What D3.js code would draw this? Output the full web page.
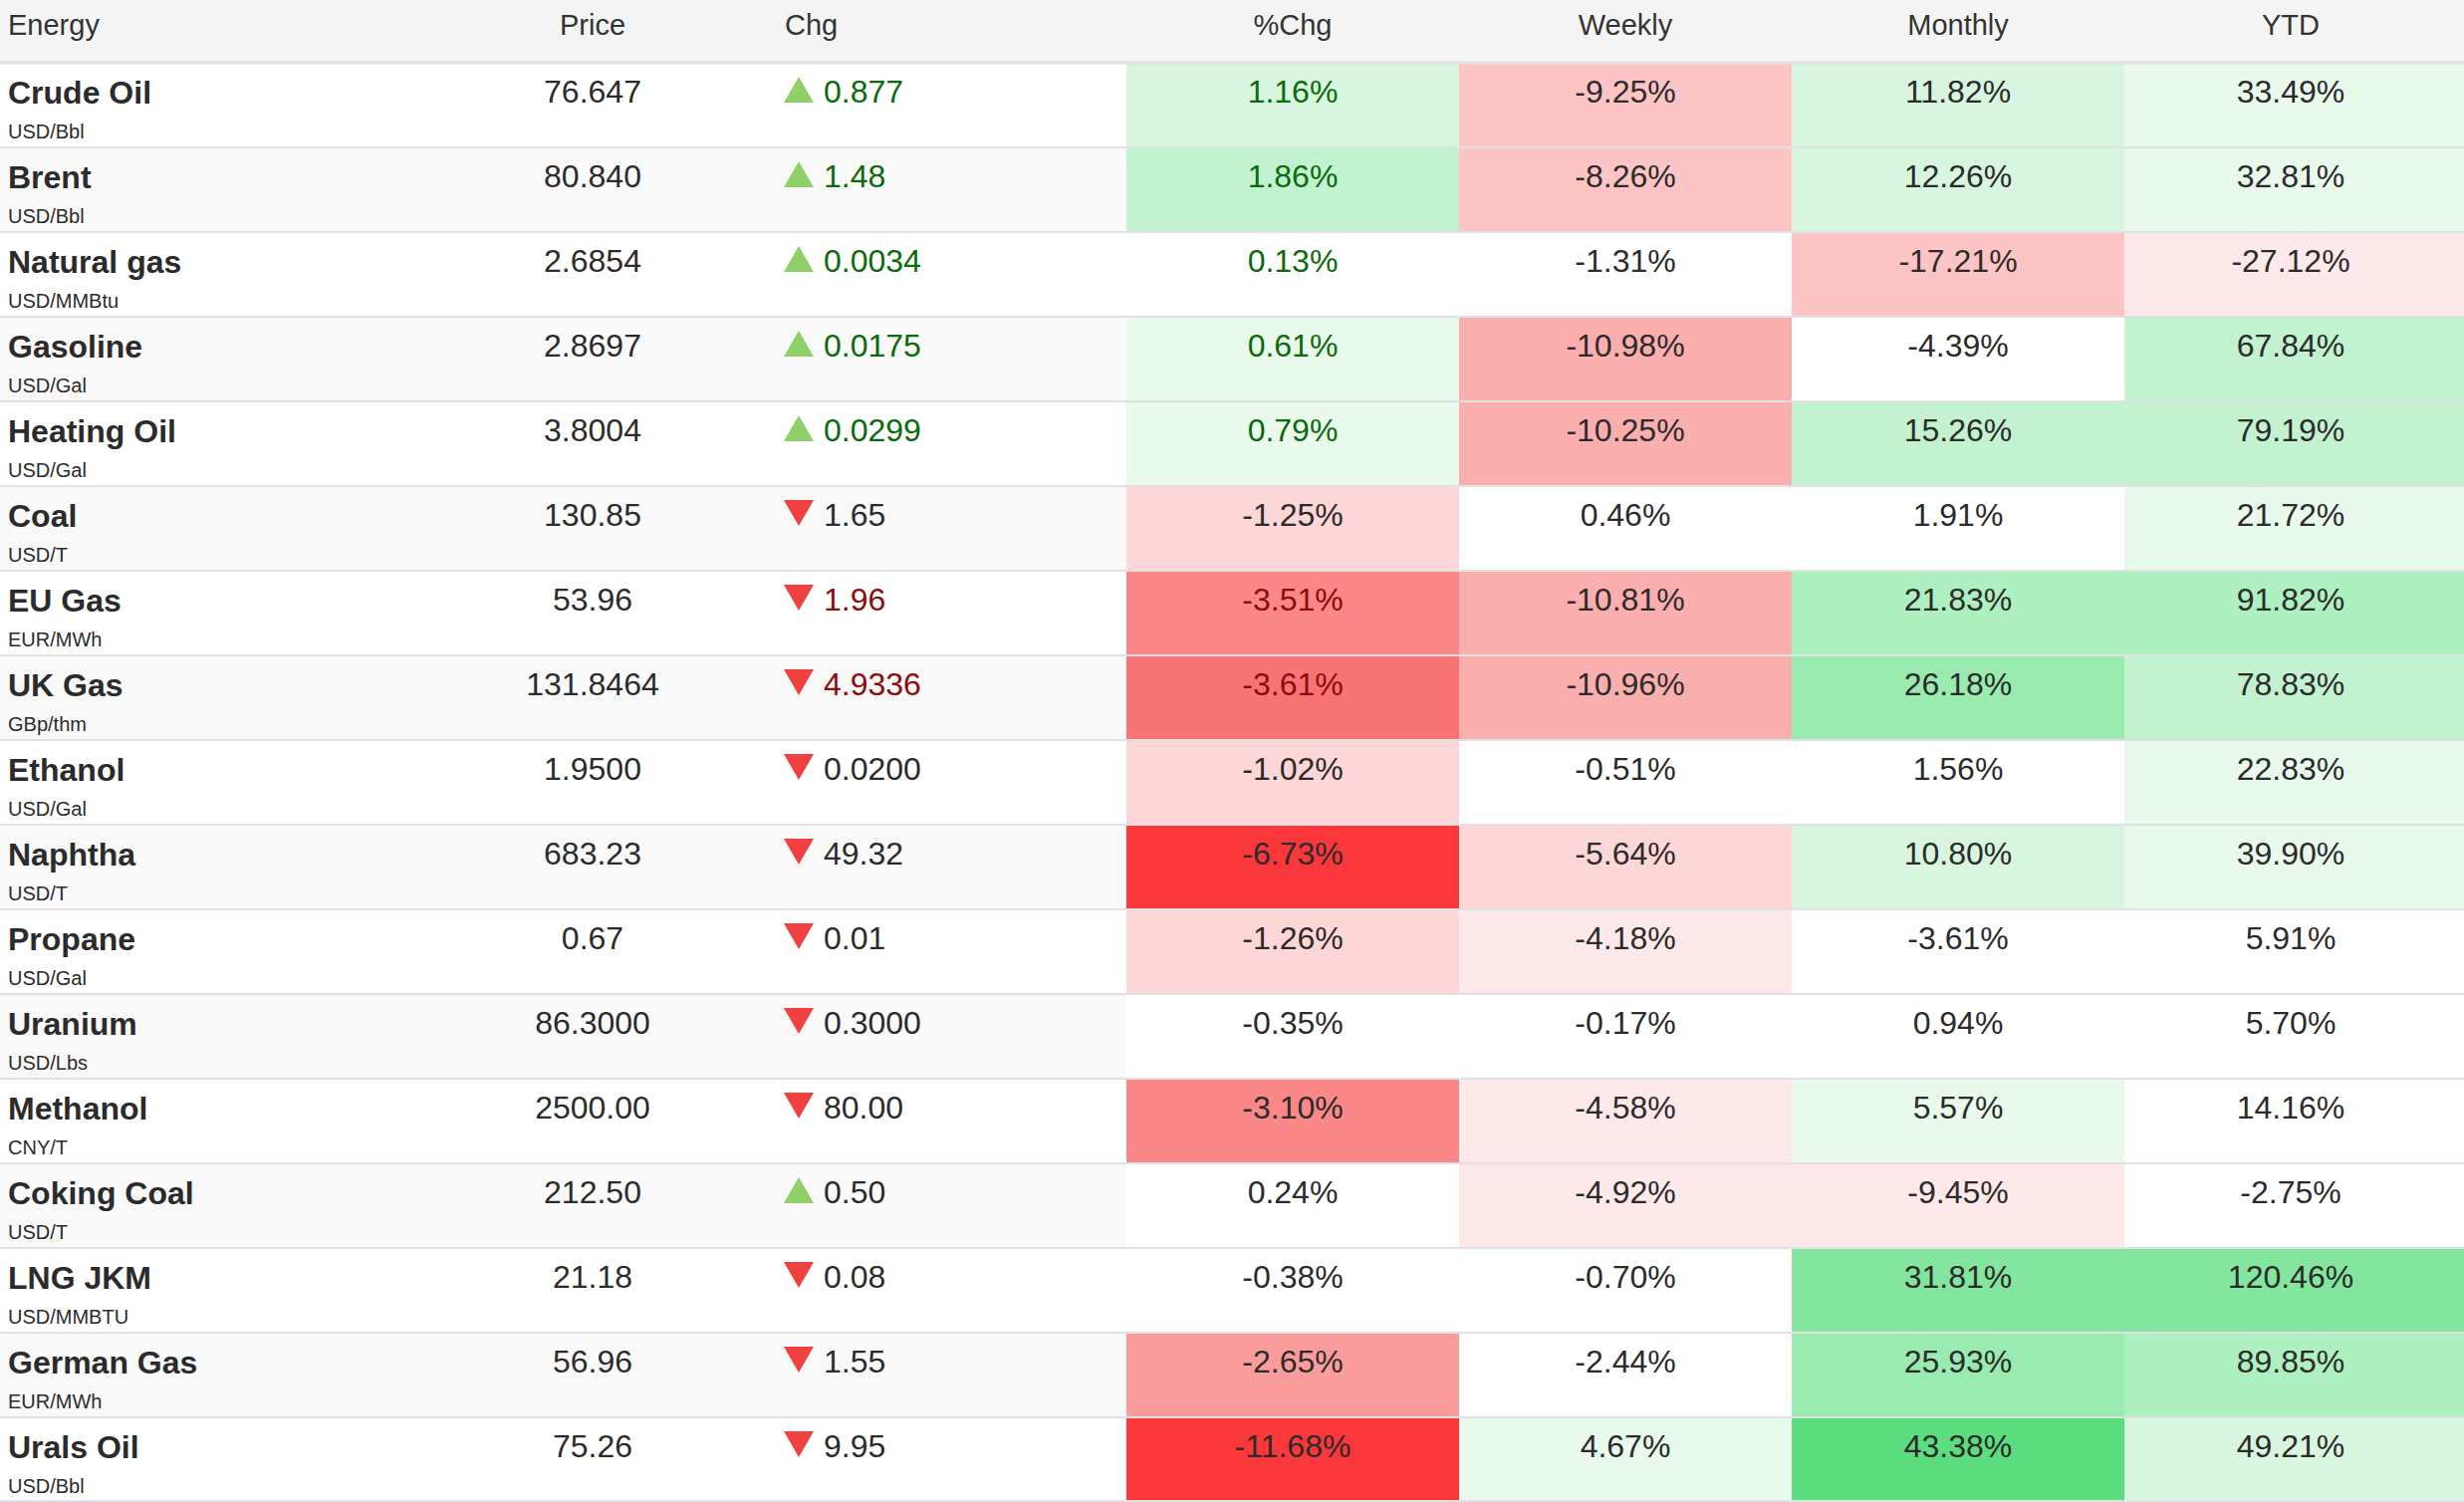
<!DOCTYPE html>
<html>
<head>
<meta charset="utf-8">
<script src="https://cdn.jsdelivr.net/npm/d3@7"></script>
<style>
  body { margin: 0; background: #fff; }
  svg { display: block; font-family: "Liberation Sans", Arial, Helvetica, sans-serif; }
</style>
</head>
<body>
<svg id="chart"></svg>
<script>
// table contents
const headers = ["Energy", "Price", "Chg", "%Chg", "Weekly", "Monthly", "YTD"];
const names = ["Crude Oil", "Brent", "Natural gas", "Gasoline", "Heating Oil", "Coal", "EU Gas", "UK Gas",
  "Ethanol", "Naphtha", "Propane", "Uranium", "Methanol", "Coking Coal", "LNG JKM", "German Gas", "Urals Oil"];
const units = ["USD/Bbl", "USD/Bbl", "USD/MMBtu", "USD/Gal", "USD/Gal", "USD/T", "EUR/MWh", "GBp/thm",
  "USD/Gal", "USD/T", "USD/Gal", "USD/Lbs", "CNY/T", "USD/T", "USD/MMBTU", "EUR/MWh", "USD/Bbl"];
const prices = ["76.647", "80.840", "2.6854", "2.8697", "3.8004", "130.85", "53.96", "131.8464",
  "1.9500", "683.23", "0.67", "86.3000", "2500.00", "212.50", "21.18", "56.96", "75.26"];
const changes = ["+0.877", "+1.48", "+0.0034", "+0.0175", "+0.0299", "-1.65", "-1.96", "-4.9336",
  "-0.0200", "-49.32", "-0.01", "-0.3000", "-80.00", "+0.50", "-0.08", "-1.55", "-9.95"];
const pctChg = [1.16, 1.86, 0.13, 0.61, 0.79, -1.25, -3.51, -3.61, -1.02, -6.73, -1.26, -0.35, -3.10, 0.24, -0.38, -2.65, -11.68];
const weekly = [-9.25, -8.26, -1.31, -10.98, -10.25, 0.46, -10.81, -10.96, -0.51, -5.64, -4.18, -0.17, -4.58, -4.92, -0.70, -2.44, 4.67];
const monthly = [11.82, 12.26, -17.21, -4.39, 15.26, 1.91, 21.83, 26.18, 1.56, 10.80, -3.61, 0.94, 5.57, -9.45, 31.81, 25.93, 43.38];
const ytd = [33.49, 32.81, -27.12, 67.84, 79.19, 21.72, 91.82, 78.83, 22.83, 39.90, 5.91, 5.70, 14.16, -2.75, 120.46, 89.85, 49.21];
// last tick direction (colours the Chg and %Chg text)
const flash = ["up", "up", "up", "up", "up", "", "down", "down", "", "", "", "", "", "", "", "", ""];

const W = 2474, H = 1508, headH = 63;
const svg = d3.select("#chart").attr("width", W).attr("height", H);

const heatCols = ["%Chg", "Weekly", "Monthly", "YTD"];
const heatVals = [pctChg, weekly, monthly, ytd];
const steps = [0.505, 2.5, 5, 20];  // size of one colour band per column

const greens = ["#ffffff", "#e9f9ec", "#d8f5df", "#c2f2cf", "#aef0c0", "#9aebb0", "#84e69e", "#70e190", "#5cdd80"];
const reds = ["#ffffff", "#fde9e9", "#fdd7d7", "#fcc4c4", "#fbaeae", "#fb9c9c", "#fa8888", "#f87474", "#fa373b"];
const colorScales = steps.map(s => {
  const dom = d3.range(1, 9).map(k => k * s);
  return {
    pos: d3.scaleThreshold().domain(dom).range(greens),
    neg: d3.scaleThreshold().domain(dom).range(reds)
  };
});
const heatColor = (c, v) => v >= 0 ? colorScales[c].pos(v) : colorScales[c].neg(-v);

const y = d3.scaleBand().domain(d3.range(names.length)).range([headH, H]).padding(0);
const x = d3.scaleBand().domain(heatCols).range([1131, 2467]).padding(0);
const priceX = 595, chgX = 802, chgTextX = 827, nameX = 8;

const textCol = "#2b2b2b";
const flashCol = { up: "#0a6b0a", down: "#8e0b0b", "": textCol };
const locale = d3.formatLocale({ decimal: ".", thousands: ",", grouping: [3], currency: ["$", ""], minus: "-" });
const fmtPct = d => locale.format(".2f")(d) + "%";

// header
svg.append("rect").attr("x", 0).attr("y", 0).attr("width", W).attr("height", headH).attr("fill", "#f4f4f4");
const hdr = svg.append("g").attr("font-size", 29).attr("fill", "#333");
hdr.append("text").attr("x", nameX).attr("y", 34.5).text(headers[0]);
hdr.append("text").attr("x", priceX).attr("y", 34.5).attr("text-anchor", "middle").text(headers[1]);
hdr.append("text").attr("x", 788).attr("y", 34.5).text(headers[2]);
hdr.selectAll("text.hc").data(heatCols).join("text").attr("class", "hc")
  .attr("x", d => x(d) + x.bandwidth() / 2).attr("y", 34.5).attr("text-anchor", "middle").text(d => d);

// rows
const rows = svg.selectAll("g.row").data(names).join("g").attr("class", "row")
  .attr("transform", (d, i) => `translate(0,${y(i)})`);

rows.append("rect").attr("width", W).attr("height", y.bandwidth())
  .attr("fill", (d, i) => i % 2 ? "#f9f9f9" : "#ffffff");

rows.each(function (d, i) {
  const g = d3.select(this);
  heatCols.forEach((c, ci) => {
    const v = heatVals[ci][i];
    const x0 = x(c);
    const w = ci === heatCols.length - 1 ? W - x0 : x.bandwidth();
    g.append("rect").attr("x", x0).attr("y", 0).attr("width", w).attr("height", y.bandwidth())
      .attr("fill", heatColor(ci, v));
    g.append("text").attr("x", x0 + x.bandwidth() / 2).attr("y", 40).attr("text-anchor", "middle")
      .attr("font-size", 32).attr("fill", ci === 0 ? flashCol[flash[i]] : textCol).text(fmtPct(v));
  });
});

rows.append("text").attr("x", nameX).attr("y", 41).attr("font-size", 32).attr("font-weight", "bold")
  .attr("fill", "#2b2b2b").text(d => d);
rows.append("text").attr("x", nameX).attr("y", 76).attr("font-size", 20).attr("fill", "#2b2b2b")
  .text((d, i) => units[i]);
rows.append("text").attr("x", priceX).attr("y", 40).attr("text-anchor", "middle").attr("font-size", 32)
  .attr("fill", textCol).text((d, i) => prices[i]);

const tri = d3.symbol().type(d3.symbolTriangle).size(390);
rows.append("path").attr("d", tri)
  .attr("transform", (d, i) => changes[i][0] === "-" ? `translate(${chgX},22.7) rotate(180)` : `translate(${chgX},31.3)`)
  .attr("fill", (d, i) => changes[i][0] === "-" ? "#f0403f" : "#8fd068");
rows.append("text").attr("x", chgTextX).attr("y", 40).attr("font-size", 32)
  .attr("fill", (d, i) => flashCol[flash[i]]).text((d, i) => changes[i].slice(1));

// row borders
svg.selectAll("line.sep").data(d3.range(names.length + 1)).join("line").attr("class", "sep")
  .attr("x1", 0).attr("x2", W)
  .attr("y1", i => i < names.length ? y(i) : H - 1).attr("y2", i => i < names.length ? y(i) : H - 1)
  .attr("stroke", "#dfe1e4").attr("stroke-width", i => i === 0 ? 3 : 2);
</script>
</body>
</html>
